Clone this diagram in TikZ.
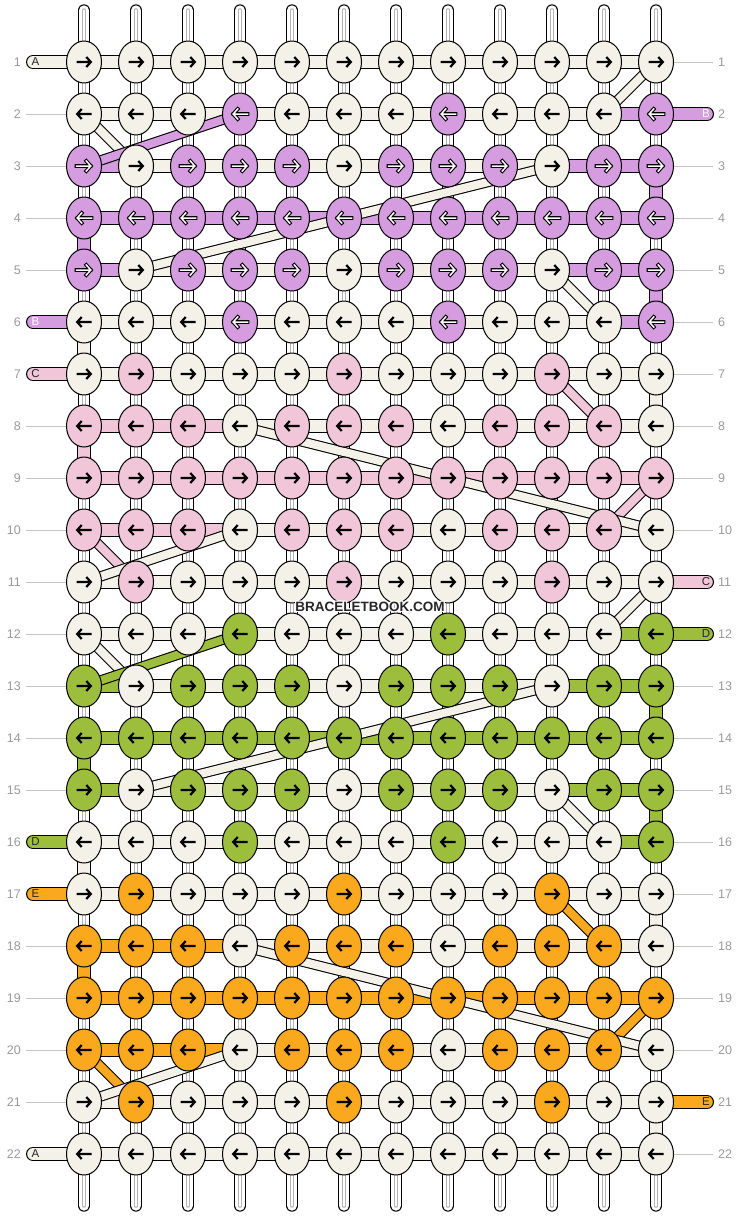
\documentclass[tikz,border=0pt]{standalone}
\usepackage{fontspec}
\setmainfont{Liberation Sans}
\usetikzlibrary{shapes.geometric, positioning}

\definecolor{cA}{HTML}{F3F1E8}
\definecolor{cB}{HTML}{D59DE0}
\definecolor{cC}{HTML}{F0C6D8}
\definecolor{cD}{HTML}{9DBE3C}
\definecolor{cE}{HTML}{FAA81E}
\definecolor{numgray}{HTML}{9A9A9A}
\definecolor{rulegray}{HTML}{C4C4C4}
\definecolor{warpgray}{HTML}{B4B4B4}
\definecolor{inkdark}{HTML}{262626}

\pgfdeclarelayer{bg}
\pgfdeclarelayer{strands}
\pgfdeclarelayer{bands}
\pgfdeclarelayer{diags}
\pgfsetlayers{bg,strands,bands,diags,main}

\begin{document}
\begin{tikzpicture}[
    x=1pt, y=-1pt,
    knot/.style={ellipse, draw=black, line width=1pt, fill=#1,
      minimum width=35pt, minimum height=42pt, inner sep=0pt},
    band/.style={draw=#1, line width=11.6pt,
      preaction={draw=black, line width=14pt}},
    stub/.style={draw=#1, line width=11.6pt, line cap=round,
      preaction={draw=black, line width=14pt, line cap=round}},
    diag/.style={draw=#1, line width=8.2pt,
      preaction={draw=black, line width=10.4pt}},
    arrow ink/.style={draw=black, line width=2.2pt, line join=miter},
    arrow hollow/.style={draw=white, line width=1.5pt, line cap=rect, line join=miter,
      preaction={draw=black, line width=3.7pt, line cap=rect, line join=miter}},
    arrA/.style={arrow ink}, arrB/.style={arrow hollow}, arrC/.style={arrow ink},
    arrD/.style={arrow ink}, arrE/.style={arrow ink},
    rownum/.style={text=numgray, font=\fontsize{12.5}{14}\selectfont, inner sep=0pt},
    rowrule/.style={draw=rulegray, line width=0.9pt},
    stubletter/.style={font=\fontsize{11.5}{12}\selectfont, inner sep=0pt},
    watermark/.style={font=\bfseries\fontsize{13.5}{14}\selectfont, inner sep=0pt},
  ]
  \useasboundingbox (0,0) rectangle (740,1216);
  \begin{pgfonlayer}{bg}
    \fill[white] (0,0) rectangle (740,1216);
  \end{pgfonlayer}

  % knots: row / direction / knot colours / colours between knots
  \foreach \r/\d/\knots/\gaps in {
      1/1/{A,A,A,A,A,A,A,A,A,A,A,A}/{A,A,A,A,A,A,A,A,A,A,A},
      2/-1/{A,A,A,B,A,A,A,B,A,A,A,B}/{A,A,A,A,A,A,A,A,A,A,B},
      3/1/{B,A,B,B,B,A,B,B,B,A,B,B}/{B,A,A,A,A,A,A,A,A,B,B},
      4/-1/{B,B,B,B,B,B,B,B,B,B,B,B}/{B,B,B,B,B,B,B,B,B,B,B},
      5/1/{B,A,B,B,B,A,B,B,B,A,B,B}/{B,A,A,A,A,A,A,A,A,B,B},
      6/-1/{A,A,A,B,A,A,A,B,A,A,A,B}/{A,A,A,A,A,A,A,A,A,A,B},
      7/1/{A,C,A,A,A,C,A,A,A,C,A,A}/{A,A,A,A,A,A,A,A,A,A,A},
      8/-1/{C,C,C,A,C,C,C,A,C,C,C,A}/{C,C,C,A,A,A,A,A,A,A,A},
      9/1/{C,C,C,C,C,C,C,C,C,C,C,C}/{C,C,C,C,C,C,C,C,C,C,C},
      10/-1/{C,C,C,A,C,C,C,A,C,C,C,A}/{C,C,C,A,A,A,A,A,A,A,A},
      11/1/{A,C,A,A,A,C,A,A,A,C,A,A}/{A,A,A,A,A,A,A,A,A,A,A},
      12/-1/{A,A,A,D,A,A,A,D,A,A,A,D}/{A,A,A,A,A,A,A,A,A,A,D},
      13/1/{D,A,D,D,D,A,D,D,D,A,D,D}/{D,A,A,A,A,A,A,A,A,D,D},
      14/-1/{D,D,D,D,D,D,D,D,D,D,D,D}/{D,D,D,D,D,D,D,D,D,D,D},
      15/1/{D,A,D,D,D,A,D,D,D,A,D,D}/{D,A,A,A,A,A,A,A,A,D,D},
      16/-1/{A,A,A,D,A,A,A,D,A,A,A,D}/{A,A,A,A,A,A,A,A,A,A,D},
      17/1/{A,E,A,A,A,E,A,A,A,E,A,A}/{A,A,A,A,A,A,A,A,A,A,A},
      18/-1/{E,E,E,A,E,E,E,A,E,E,E,A}/{E,E,E,A,A,A,A,A,A,A,A},
      19/1/{E,E,E,E,E,E,E,E,E,E,E,E}/{E,E,E,E,E,E,E,E,E,E,E},
      20/-1/{E,E,E,A,E,E,E,A,E,E,E,A}/{E,E,E,A,A,A,A,A,A,A,A},
      21/1/{A,E,A,A,A,E,A,A,A,E,A,A}/{A,A,A,A,A,A,A,A,A,A,A},
      22/-1/{A,A,A,A,A,A,A,A,A,A,A,A}/{A,A,A,A,A,A,A,A,A,A,A}%
    }{
    \foreach \k [count=\c] in \knots {
      \node[knot=c\k] (k-\r-\c) at ({84+52*(\c-1)}, {62+52*(\r-1)}) {};
      \draw[arr\k, shift={(k-\r-\c.center)}, xscale=\d]
        (-7.5,0) -- (6.5,0) (2.3,-5) -- (6.8,0) -- (2.3,5);
    }
    \begin{pgfonlayer}{bands}
      \foreach \g [count=\c] in \gaps {
        \pgfmathtruncatemacro\n{\c+1}
        \draw[band=c\g] (k-\r-\c.center) -- (k-\r-\n.center);
      }
    \end{pgfonlayer}
  }

  % warp strands
  \begin{pgfonlayer}{strands}
    \foreach \c in {1,...,12} {
      \coordinate[above=30pt of k-1-\c.north] (top-\c);
      \coordinate[below=30pt of k-22-\c.south] (bot-\c);
      \foreach \w/\col in {12.4/black, 10.4/white, 4.6/warpgray, 2.4/white}
        \draw[line width=\w pt, draw=\col, line cap=round] (top-\c) -- (bot-\c);
    }
  \end{pgfonlayer}

  \begin{pgfonlayer}{bands}
    % strings turning down at the edges
    \foreach \r/\c/\col in {3/12/B, 4/1/B, 5/12/B, 6/1/A, 7/12/A, 8/1/C,
        13/12/D, 14/1/D, 15/12/D, 16/1/A, 17/12/A, 18/1/E, 21/12/A} {
      \pgfmathtruncatemacro\n{\r+1}
      \draw[band=c\col] (k-\r-\c.center) -- (k-\n-\c.center);
    }
    % loose ends
    \foreach \r/\col/\txt in {1/A/inkdark, 6/B/white, 7/C/inkdark,
        16/D/inkdark, 17/E/inkdark, 22/A/inkdark} {
      \coordinate[left=51pt of k-\r-1.center] (inL-\r);
      \draw[stub=c\col] (k-\r-1.center) -- (inL-\r);
      \node[stubletter, text=\txt] at ([xshift=2.5pt]inL-\r) {\col};
    }
    \foreach \r/\col/\txt in {2/B/white, 11/C/inkdark, 12/D/inkdark, 21/E/inkdark} {
      \coordinate[right=51pt of k-\r-12.center] (outR-\r);
      \draw[stub=c\col] (k-\r-12.center) -- (outR-\r);
      \node[stubletter, text=\txt] at ([xshift=-1pt]outR-\r) {\col};
    }
  \end{pgfonlayer}

  % strings moving between rows
  \begin{pgfonlayer}{diags}
    \foreach \ra/\ca/\rb/\cb/\col in {1/12/2/11/A, 2/1/3/2/A, 5/10/6/11/A,
        7/10/8/11/C, 9/12/10/11/C, 10/1/11/2/C, 11/12/12/11/A, 12/1/13/2/A,
        15/10/16/11/A, 17/10/18/11/E, 19/12/20/11/E, 20/1/21/2/E,
        2/4/3/1/B, 3/10/5/2/A, 8/4/10/12/A, 10/4/11/1/A,
        12/4/13/1/D, 13/10/15/2/A, 18/4/20/12/A, 20/4/21/1/A}
      \draw[diag=c\col] (k-\ra-\ca.center) -- (k-\rb-\cb.center);
  \end{pgfonlayer}

  % row numbers
  \foreach \r in {1,...,22} {
    \node[rownum, anchor=east] (numL-\r) at (21, {62+52*(\r-1)}) {\r};
    \node[rownum, anchor=west] (numR-\r) at (718, {62+52*(\r-1)}) {\r};
  }
  \foreach \r in {2,3,4,5,8,9,10,11,12,13,14,15,18,19,20,21}
    \draw[rowrule] ([xshift=5pt]numL-\r.east) -- (k-\r-1.west);
  \foreach \r in {1,3,4,5,6,7,8,9,10,13,14,15,16,17,18,19,20,22}
    \draw[rowrule] ([xshift=-5pt]numR-\r.west) -- (k-\r-12.east);

  \coordinate (markpos) at (370,607);
  \foreach \dx/\dy in {-1/-1,0/-1,1/-1,-1/0,1/0,-1/1,0/1,1/1}
    \node[watermark, text=white] at ([shift={(\dx,\dy)}]markpos) {BRACELETBOOK.COM};
  \node[watermark, text=inkdark] (mark) at (markpos) {BRACELETBOOK.COM};
\end{tikzpicture}
\end{document}
